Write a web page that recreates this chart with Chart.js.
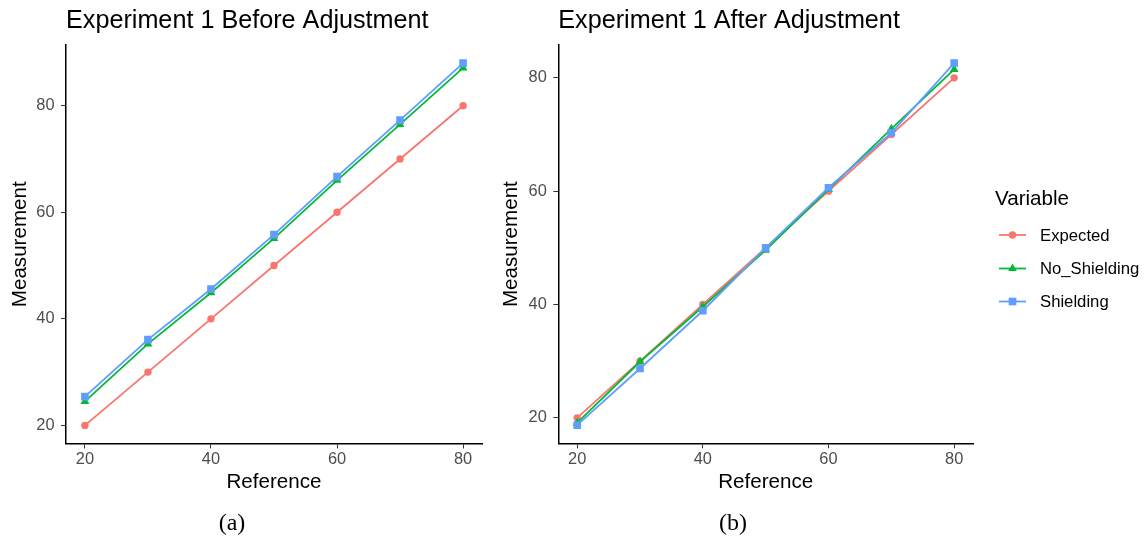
<!DOCTYPE html>
<html><head><meta charset="utf-8">
<script src="https://cdn.jsdelivr.net/npm/chart.js@4.4.1/dist/chart.umd.min.js"></script>
<style>
html,body{margin:0;padding:0;background:#fff;overflow:hidden;width:1145px;height:537px}
#c1{position:absolute;left:0;top:0}
#c2{position:absolute;left:495px;top:0}
</style></head><body>
<canvas id="c1" width="495" height="537"></canvas>
<canvas id="c2" width="650" height="537"></canvas>
<script>
// ---- data ----
const reference = [20, 30, 40, 50, 60, 70, 80];
const beforeExpected = [20, 30, 40, 50, 60, 70, 80];
const beforeNoShielding = [24.5, 35.3, 44.9, 55.1, 66.0, 76.5, 87.1];
const beforeShielding = [25.4, 36.1, 45.6, 55.8, 66.7, 77.3, 88.0];
const afterExpected = [20, 30, 40, 50, 60, 70, 80];
const afterNoShielding = [19.1, 29.9, 39.6, 49.6, 60.3, 71.0, 81.5];
const afterShielding = [18.7, 28.7, 38.9, 50.0, 60.6, 70.3, 82.6];
const tickValues = [20, 40, 60, 80];
const seriesNames = ['Expected', 'No_Shielding', 'Shielding'];

// ---- styles ----
const seriesColors = ['#F8766D', '#00BA38', '#619CFF'];
const pointStyles = ['circle', 'triangle', 'rect'];
const pointRadii = [3.7, 5.1, 5.4];
const FONT = '"Liberation Sans", Arial, sans-serif';
Chart.defaults.font.family = FONT;
Chart.defaults.color = '#4D4D4D';

function expand(vals) {
  const mn = Math.min(...vals), mx = Math.max(...vals), r = mx - mn;
  return [mn - 0.05 * r, mx + 0.05 * r];
}

function fallbackPoint(ctx, style, r, x, y) {
  ctx.beginPath();
  if (style === 'circle') ctx.arc(x, y, r, 0, Math.PI * 2);
  else if (style === 'rect') { const s = r * Math.SQRT1_2; ctx.rect(x - s, y - s, 2 * s, 2 * s); }
  else {
    for (let k = 0; k < 3; k++) {
      const a = k * 2 * Math.PI / 3;
      const px = x + Math.sin(a) * r, py = y - Math.cos(a) * r;
      if (k === 0) ctx.moveTo(px, py); else ctx.lineTo(px, py);
    }
    ctx.closePath();
  }
  ctx.fill();
}

const decor = {
  id: 'decor',
  afterDraw(chart, args, opts) {
    const ctx = chart.ctx, ca = chart.chartArea;
    ctx.save();
    ctx.fillStyle = '#000';
    ctx.textAlign = 'left';
    ctx.textBaseline = 'alphabetic';
    ctx.font = '25.2px ' + FONT;
    ctx.fillText(opts.title, ca.left, 28);
    ctx.font = '24px "Liberation Serif", "Times New Roman", serif';
    ctx.textAlign = 'center';
    ctx.fillText(opts.caption, opts.captionX, 530);
    if (opts.legend) {
      ctx.textAlign = 'left';
      ctx.font = '20.6px ' + FONT;
      ctx.fillStyle = '#000';
      ctx.fillText('Variable', ca.right + 22, 205);
      const ys = [235, 268.5, 301.5];
      ctx.font = '16.7px ' + FONT;
      ctx.textBaseline = 'middle';
      seriesNames.forEach((name, i) => {
        const y = ys[i];
        ctx.strokeStyle = seriesColors[i];
        ctx.lineWidth = 1.8;
        ctx.beginPath();
        ctx.moveTo(ca.right + 26, y);
        ctx.lineTo(ca.right + 53, y);
        ctx.stroke();
        ctx.fillStyle = seriesColors[i];
        fallbackPoint(ctx, pointStyles[i], pointRadii[i], ca.right + 39.5, y);
        ctx.fillStyle = '#000';
        ctx.fillText(name, ca.right + 67, y + 1);
      });
    }
    ctx.restore();
  }
};

function makeDatasets(series) {
  return series.map((vals, i) => ({
    label: seriesNames[i],
    data: reference.map((x, j) => ({ x: x, y: vals[j] })),
    borderColor: seriesColors[i],
    backgroundColor: seriesColors[i],
    borderWidth: 1.8,
    pointStyle: pointStyles[i],
    pointRadius: pointRadii[i],
    pointBorderWidth: 0,
    pointBackgroundColor: seriesColors[i],
    tension: 0,
    order: 3 - i
  }));
}

function makeChart(id, series, o) {
  const yr = expand([].concat(...series));
  const xr = expand(reference);
  return new Chart(document.getElementById(id), {
    type: 'line',
    data: { datasets: makeDatasets(series) },
    options: {
      responsive: false,
      animation: false,
      devicePixelRatio: 1,
      layout: { padding: { top: 45, bottom: 42, left: 0, right: o.padRight } },
      plugins: {
        legend: { display: false },
        tooltip: { enabled: false },
        decor: { title: o.title, caption: o.caption, captionX: o.captionX, legend: o.legend }
      },
      scales: {
        x: {
          type: 'linear', min: xr[0], max: xr[1],
          afterBuildTicks: s => { s.ticks = tickValues.map(v => ({ value: v })); },
          afterFit: s => { s.height = o.xHeight; },
          ticks: { font: { size: 16.4 }, color: '#4D4D4D', padding: 1, maxRotation: 0 },
          grid: { drawOnChartArea: false, drawTicks: true, tickLength: 5, color: '#333333', lineWidth: 1 },
          border: { display: true, color: '#000', width: 1.5 },
          title: { display: true, text: 'Reference', color: '#000', font: { size: 20.6 }, padding: { top: 0, bottom: 0 } }
        },
        y: {
          type: 'linear', min: yr[0], max: yr[1],
          afterBuildTicks: s => { s.ticks = tickValues.map(v => ({ value: v })); },
          afterFit: s => { s.width = o.yWidth; },
          ticks: { font: { size: 16.4 }, color: '#4D4D4D', padding: 6.5 },
          grid: { drawOnChartArea: false, drawTicks: true, tickLength: 5, color: '#333333', lineWidth: 1 },
          border: { display: true, color: '#000', width: 1.5 },
          title: { display: true, text: 'Measurement', color: '#000', font: { size: 20.6 }, padding: { top: o.yTitlePad, bottom: 0 } }
        }
      }
    },
    plugins: [decor]
  });
}

makeChart('c1', [beforeExpected, beforeNoShielding, beforeShielding], {
  title: 'Experiment 1 Before Adjustment', caption: '(a)', captionX: 232,
  legend: false, padRight: 13, xHeight: 51.5, yWidth: 66, yTitlePad: 7.6
});
makeChart('c2', [afterExpected, afterNoShielding, afterShielding], {
  title: 'Experiment 1 After Adjustment', caption: '(b)', captionX: 238,
  legend: true, padRight: 172, xHeight: 51.7, yWidth: 63.3, yTitlePad: 4.3
});
</script>
</body></html>
